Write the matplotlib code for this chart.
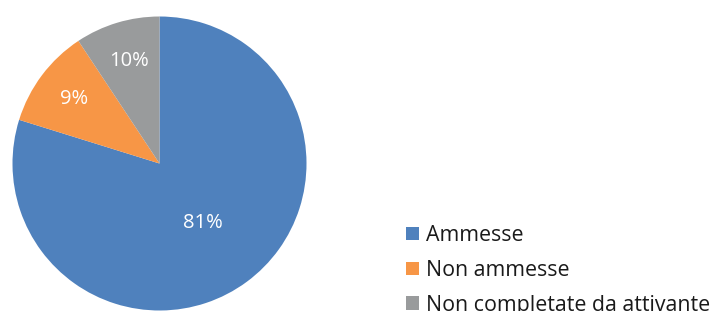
import numpy as np
import matplotlib
matplotlib.use('Agg')
import matplotlib.pyplot as plt

# DATA (wedge sizes, labels as printed)
categories = ['Ammesse', 'Non ammesse', 'Non completate da attivante']
values = [79.8, 10.9, 9.3]
pct_labels = ['81%', '9%', '10%']
colors = ['#4f81bd', '#f79646', '#999b9c']
label_dist = [0.5, 0.73, 0.73]

plt.rcParams['font.family'] = ['Open Sans', 'DejaVu Sans']

W, H = 711, 311
fig = plt.figure(figsize=(W / 100, H / 100), dpi=100)

# pie axes: center (159.5, 163.5) px, radius 147 px
cx, cy, r = 159.5, 163.5, 147
ax = fig.add_axes([(cx - r) / W, (H - cy - r) / H, 2 * r / W, 2 * r / H])
wedges, _ = ax.pie(values, colors=colors, startangle=90, counterclock=False,
                   radius=1, wedgeprops=dict(linewidth=0))
ax.set_xlim(-1, 1)
ax.set_ylim(-1, 1)
ax.set_aspect('auto')
ax.axis('off')

for w, lab, d in zip(wedges, pct_labels, label_dist):
    ang = np.deg2rad((w.theta1 + w.theta2) / 2)
    ax.text(d * np.cos(ang), d * np.sin(ang), lab, color='white',
            fontsize=14.5, ha='center', va='center')

fs = 15.4
fpx = fs * 100 / 72
fig.legend(wedges, categories, loc='upper left',
           bbox_to_anchor=(406 / W, 1 - 225 / H), frameon=False,
           fontsize=fs, handlelength=13 / fpx, handleheight=13 / fpx,
           handletextpad=7 / fpx, labelspacing=0.65,
           borderpad=0, borderaxespad=0, labelcolor='#1a1a1a')

fig.savefig('out.png', dpi=100)
